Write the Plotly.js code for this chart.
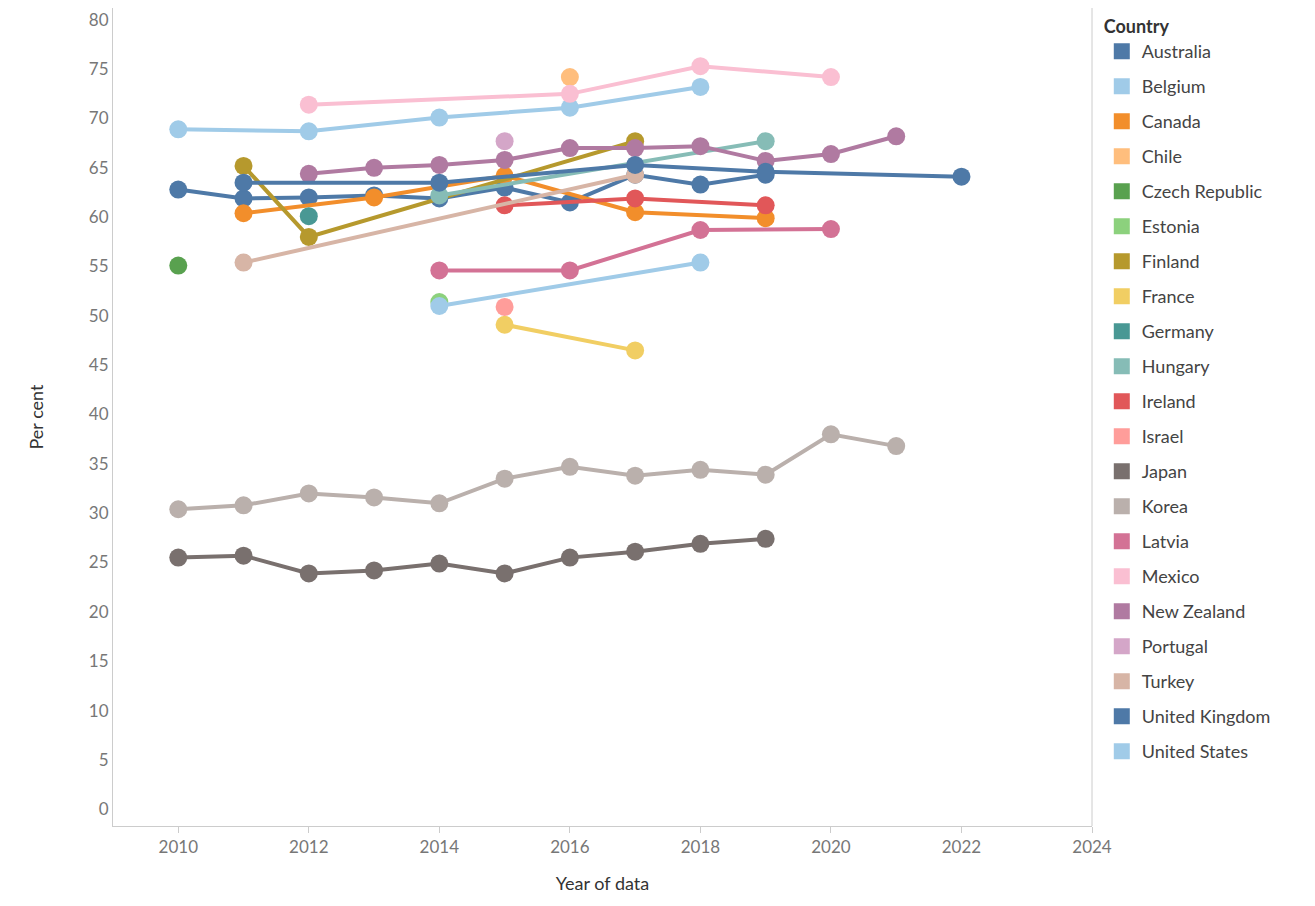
<!DOCTYPE html>
<html>
<head>
<meta charset="utf-8">
<script src="https://cdn.plot.ly/plotly-3.0.1.min.js"></script>
<style>body{margin:0;background:#fff}#chart{width:1315px;height:906px}</style>
</head>
<body>
<div id="chart"></div>
<script>
// Country series: [years, values]
const countries = ['Australia','Belgium','Canada','Chile','Czech Republic','Estonia','Finland','France','Germany','Hungary','Ireland','Israel','Japan','Korea','Latvia','Mexico','New Zealand','Portugal','Turkey','United Kingdom','United States'];
const colors = ['#4e79a7','#a0cbe8','#f28e2b','#ffbe7d','#59a14f','#8cd17d','#b6992d','#f1ce63','#499894','#86bcb6','#e15759','#ff9d9a','#79706e','#bab0ac','#d37295','#fabfd2','#b07aa1','#d4a6c8','#d7b5a6','#4e79a7','#a0cbe8'];

const years = {
  'Australia':      [2010,2011,2012,2013,2014,2015,2016,2017,2018,2019],
  'Belgium':        [2010,2012,2014,2016,2018],
  'Canada':         [2011,2013,2015,2017,2019],
  'Chile':          [2016],
  'Czech Republic': [2010],
  'Estonia':        [2014],
  'Finland':        [2011,2012,2017],
  'France':         [2015,2017],
  'Germany':        [2012],
  'Hungary':        [2014,2019],
  'Ireland':        [2015,2017,2019],
  'Israel':         [2015],
  'Japan':          [2010,2011,2012,2013,2014,2015,2016,2017,2018,2019],
  'Korea':          [2010,2011,2012,2013,2014,2015,2016,2017,2018,2019,2020,2021],
  'Latvia':         [2014,2016,2018,2020],
  'Mexico':         [2012,2016,2018,2020],
  'New Zealand':    [2012,2013,2014,2015,2016,2017,2018,2019,2020,2021],
  'Portugal':       [2015],
  'Turkey':         [2011,2017],
  'United Kingdom': [2011,2014,2017,2019,2022],
  'United States':  [2014,2018]
};
const values = {
  'Australia':      [62.8,61.9,62.0,62.2,61.9,63.0,61.5,64.3,63.3,64.3],
  'Belgium':        [68.9,68.7,70.1,71.1,73.2],
  'Canada':         [60.4,62.0,64.2,60.5,59.9],
  'Chile':          [74.2],
  'Czech Republic': [55.1],
  'Estonia':        [51.4],
  'Finland':        [65.2,58.0,67.7],
  'France':         [49.1,46.5],
  'Germany':        [60.1],
  'Hungary':        [62.2,67.7],
  'Ireland':        [61.2,61.9,61.2],
  'Israel':         [50.9],
  'Japan':          [25.5,25.7,23.9,24.2,24.9,23.9,25.5,26.1,26.9,27.4],
  'Korea':          [30.4,30.8,32.0,31.6,31.0,33.5,34.7,33.8,34.4,33.9,38.0,36.8],
  'Latvia':         [54.6,54.6,58.7,58.8],
  'Mexico':         [71.4,72.5,75.3,74.2],
  'New Zealand':    [64.4,65.0,65.3,65.8,67.0,67.0,67.2,65.7,66.4,68.2],
  'Portugal':       [67.7],
  'Turkey':         [55.4,64.3],
  'United Kingdom': [63.5,63.5,65.3,64.6,64.1],
  'United States':  [51.0,55.4]
};

const FONT = 'Lato, "Open Sans", sans-serif';
const traces = [];
countries.forEach((c, i) => {
  traces.push({
    x: years[c], y: values[c], mode: 'lines+markers', name: c, showlegend: false,
    line: {color: colors[i], width: 4}, marker: {color: colors[i], size: 18},
    hovertemplate: c + '<br>%{x}: %{y}<extra></extra>'
  });
});
// Square legend entries
countries.forEach((c, i) => {
  traces.push({
    x: [null], y: [null], mode: 'markers', name: c, legendgroup: c,
    marker: {color: colors[i], size: 22, symbol: 'square'}, hoverinfo: 'skip'
  });
});

const layout = {
  width: 1315, height: 906,
  paper_bgcolor: '#fff', plot_bgcolor: '#fff',
  font: {family: FONT, color: '#777', size: 17},
  margin: {l: 113, r: 223, t: 8, b: 80},
  xaxis: {
    range: [2009, 2024.0], tickvals: [2010,2012,2014,2016,2018,2020,2022,2024],
    showgrid: false, zeroline: false, showline: true, linecolor: '#ccc', linewidth: 1,
    ticks: 'outside', ticklen: 6, tickcolor: '#ccc',
    title: {text: 'Year of data', font: {size: 18, color: '#333'}, standoff: 20}
  },
  yaxis: {
    range: [-1.7, 81.2], tickvals: [0,5,10,15,20,25,30,35,40,45,50,55,60,65,70,75,80],
    showgrid: false, zeroline: false, showline: true, linecolor: '#ccc', linewidth: 1,
    ticks: '', mirror: false,
    title: {text: 'Per cent', font: {size: 18, color: '#333'}, standoff: 40}
  },
  shapes: [{type: 'line', xref: 'paper', yref: 'paper', x0: 1, x1: 1, y0: 0, y1: 1, line: {color: '#ccc', width: 1}}],
  legend: {
    x: 1.01, y: 0.998, xanchor: 'left', yanchor: 'top',
    title: {text: '<b>Country</b>', font: {size: 18, color: '#333'}},
    font: {size: 18, color: '#444'}, tracegroupgap: 8.6, itemsizing: 'trace'
  },
  hovermode: 'closest'
};

Plotly.newPlot('chart', traces, layout, {displayModeBar: false});
</script>
</body>
</html>
